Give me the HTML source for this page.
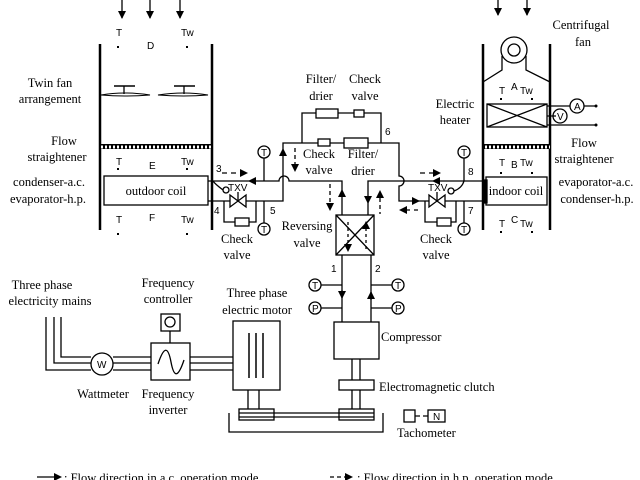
<!DOCTYPE html>
<html><head><style>
html,body{margin:0;padding:0;background:#fff;}
svg{display:block;}
.s{font-family:"Liberation Serif",serif;font-size:12.5px;}
.a{font-family:"Liberation Sans",sans-serif;font-size:10px;}
</style></head><body>
<svg width="640" height="480" viewBox="0 0 640 480" xmlns="http://www.w3.org/2000/svg">
<defs>
<marker id="ar" markerWidth="8" markerHeight="8" refX="7" refY="4" orient="auto" markerUnits="userSpaceOnUse"><path d="M0,0 L8,4 L0,8 z" fill="#000"/></marker>
<pattern id="hat" width="4" height="6" patternUnits="userSpaceOnUse"><rect width="4" height="6" fill="#000"/><rect x="1" y="1.5" width="2" height="3" fill="#fff"/></pattern>
</defs>
<g stroke="#000" fill="none" stroke-width="1.3">
<line x1="100" y1="44" x2="100" y2="230" stroke-width="2.5"/>
<line x1="212" y1="44" x2="212" y2="230" stroke-width="2.5"/>
<line x1="122" y1="0" x2="122" y2="18" marker-end="url(#ar)"/>
<line x1="150" y1="0" x2="150" y2="18" marker-end="url(#ar)"/>
<line x1="180" y1="0" x2="180" y2="18" marker-end="url(#ar)"/>
<line x1="114" y1="86" x2="135" y2="86" stroke-width="1.5"/><line x1="124" y1="86" x2="124" y2="94"/>
<path d="M101,95 Q124,91 150,95 Q124,97 101,95z" stroke-width="1"/>
<line x1="174" y1="86" x2="195" y2="86" stroke-width="1.5"/><line x1="184" y1="86" x2="184" y2="94"/>
<path d="M158,95 Q184,91 208,95 Q184,97 158,95z" stroke-width="1"/>
<rect x="100" y="144" width="112" height="5" fill="url(#hat)" stroke="none"/>
<rect x="104" y="176" width="104" height="29"/>
<line x1="483" y1="44" x2="483" y2="230" stroke-width="2.5"/>
<line x1="550" y1="44" x2="550" y2="230" stroke-width="2.5"/>
<line x1="498" y1="0" x2="498" y2="15" marker-end="url(#ar)"/>
<line x1="527" y1="0" x2="527" y2="15" marker-end="url(#ar)"/>
<circle cx="514" cy="50" r="13"/><circle cx="514" cy="50" r="6"/>
<path d="M502,56 V70 L483,82 M526,56 V70 L550,82"/>
<rect x="487" y="104" width="60" height="23"/><path d="M487,104 L547,127 M547,104 L487,127"/>
<path d="M547,106 H570 M584,106 H596 M547,125 H596 M556,116 H547"/>
<circle cx="577" cy="106" r="7"/><circle cx="560" cy="116" r="7"/>
<rect x="483" y="144" width="67" height="5" fill="url(#hat)" stroke="none"/>
<rect x="486" y="177" width="61" height="28"/>
<rect x="483" y="180" width="4" height="23" fill="#000"/>
<path d="M208,181 H279 A5,5 0 0 1 289,181 H342 V215"/>
<path d="M208,201 H230 M246,201 H283 V143 H399 V176 A5,5 0 0 1 399,186 V201 H429"/>
<path d="M445,201 H483"/>
<path d="M483,181 H368 V215"/>
<path d="M302,143 V113 H381 V143"/>
<rect x="316" y="109" width="22" height="9" fill="#fff"/><rect x="354" y="110" width="10" height="7" fill="#fff"/>
<rect x="318" y="139" width="12" height="7" fill="#fff"/><rect x="344" y="138" width="24" height="10" fill="#fff"/>
<path d="M230,195 L246,207 L246,195 L230,207 Z"/><line x1="238" y1="201" x2="238" y2="192"/>
<circle cx="226" cy="190" r="3"/><path d="M223,190 Q215,184 213,181"/>
<path d="M224,201 V222 H256 V201"/><rect x="235" y="218" width="14" height="8" fill="#fff"/>
<line x1="264" y1="158" x2="264" y2="181"/><circle cx="264" cy="152" r="6"/>
<line x1="264" y1="201" x2="264" y2="223"/><circle cx="264" cy="229" r="6"/>
<path d="M429,195 L445,207 L445,195 L429,207 Z"/><line x1="437" y1="201" x2="437" y2="192"/>
<circle cx="451" cy="191" r="3"/><path d="M454,191 Q462,188 464,181"/>
<path d="M425,201 V222 H456 V201"/><rect x="437" y="218" width="14" height="8" fill="#fff"/>
<line x1="464" y1="158" x2="464" y2="181"/><circle cx="464" cy="152" r="6"/>
<line x1="464" y1="201" x2="464" y2="223"/><circle cx="464" cy="229" r="6"/>
<rect x="336" y="215" width="38" height="40"/><path d="M336,215 L374,255 M374,215 L336,255"/>
<path d="M342,255 V322 M371,255 V322"/>
<line x1="342" y1="290" x2="342" y2="298" marker-end="url(#ar)"/>
<line x1="371" y1="300" x2="371" y2="292" marker-end="url(#ar)"/>
<line x1="321" y1="285" x2="342" y2="285"/><circle cx="315" cy="285" r="6"/>
<line x1="321" y1="308" x2="342" y2="308"/><circle cx="315" cy="308" r="6"/>
<line x1="371" y1="285" x2="392" y2="285"/><circle cx="398" cy="285" r="6"/>
<line x1="371" y1="308" x2="392" y2="308"/><circle cx="398" cy="308" r="6"/>
<rect x="334" y="322" width="45" height="37"/>
<path d="M352,359 V380 M360,359 V380 M352,390 V409 M360,390 V409"/>
<rect x="339" y="380" width="35" height="10"/>
<rect x="339" y="409" width="35" height="11"/><path d="M339,413 H374 M339,417 H374"/>
<rect x="239" y="409" width="35" height="11"/><path d="M239,413 H274 M239,417 H274"/>
<path d="M274,413 H339 M274,417 H339"/>
<path d="M229,413 V432 H383 V413"/>
<path d="M248,390 V409 M259,390 V409"/>
<rect x="233" y="321" width="47" height="69"/>
<path d="M249,333 V378 M256,333 V378 M263,333 V378" stroke-width="1.5"/>
<path d="M46,317 V370 H91 M54,317 V363 H91 M61,317 V357 H91"/>
<path d="M113,357 H151 M113,363 H151 M113,370 H151"/>
<circle cx="102" cy="364" r="11"/>
<rect x="151" y="343" width="39" height="37"/>
<path d="M158,364 C164,346 168,346 171,362 C174,378 178,378 184,360"/>
<rect x="161" y="314" width="19" height="17"/><circle cx="170" cy="322" r="5"/><line x1="170" y1="331" x2="170" y2="343"/>
<path d="M190,357 H233 M190,363 H233 M190,370 H233"/>
<rect x="404" y="410" width="11" height="12"/><path d="M415,416 H420 M423,416 H428"/><rect x="428" y="410" width="17" height="12"/>
<path d="M256,177 L248,181 L256,185z" fill="#000" stroke="none"/>
<path d="M222,173 H242" stroke-dasharray="5,4"/><path d="M240,169 L248,173 L240,177z" fill="#000" stroke="none"/>
<path d="M279,156 L283,148 L287,156z" fill="#000" stroke="none"/>
<path d="M295,148 V164" stroke-dasharray="4,3"/><path d="M291,164 L295,172 L299,164z" fill="#000" stroke="none"/>
<path d="M338,197 L342,189 L346,197z" fill="#000" stroke="none"/>
<path d="M330,184 V202" stroke-dasharray="4,3"/><path d="M326,203 L330,211 L334,203z" fill="#000" stroke="none"/>
<path d="M364,196 L368,204 L372,196z" fill="#000" stroke="none"/>
<path d="M380,198 V214" stroke-dasharray="4,3"/><path d="M376,198 L380,190 L384,198z" fill="#000" stroke="none"/>
<path d="M348,222 V246" stroke-dasharray="3,3"/><path d="M344,244 L348,252 L352,244z" fill="#000" stroke="none"/>
<path d="M366,228 V252" stroke-dasharray="3,3"/><path d="M362,229 L366,221 L370,229z" fill="#000" stroke="none"/>
<path d="M440,177 L432,181 L440,185z" fill="#000" stroke="none"/>
<path d="M420,173 H433" stroke-dasharray="5,4"/><path d="M433,169 L441,173 L433,177z" fill="#000" stroke="none"/>
<path d="M412,197 L420,201 L412,205z" fill="#000" stroke="none"/>
<path d="M405,210 H418" stroke-dasharray="5,4"/><path d="M407,206 L399,210 L407,214z" fill="#000" stroke="none"/>
<line x1="37" y1="477" x2="55" y2="477"/><path d="M54,473 L62,477 L54,481z" fill="#000" stroke="none"/>
<path d="M330,477 H345" stroke-dasharray="4,3"/><path d="M345,473 L353,477 L345,481z" fill="#000" stroke="none"/>
</g>
<g fill="#000">
<g font-family="Liberation Sans" font-size="10">
<text x="116" y="36" class="a">T</text><text x="147" y="49" class="a">D</text><text x="181" y="36" class="a">Tw</text>
<text x="116" y="165" class="a">T</text><text x="149" y="169" class="a">E</text><text x="181" y="165" class="a">Tw</text>
<text x="116" y="223" class="a">T</text><text x="149" y="221" class="a">F</text><text x="181" y="223" class="a">Tw</text>
<text x="499" y="94" class="a">T</text><text x="511" y="90" class="a">A</text><text x="520" y="94" class="a">Tw</text>
<text x="499" y="166" class="a">T</text><text x="511" y="168" class="a">B</text><text x="520" y="166" class="a">Tw</text>
<text x="499" y="227" class="a">T</text><text x="511" y="223" class="a">C</text><text x="520" y="227" class="a">Tw</text>
<text x="261" y="156" class="a">T</text><text x="261" y="233" class="a">T</text>
<text x="461" y="156" class="a">T</text><text x="461" y="233" class="a">T</text>
<text x="312" y="289" class="a">T</text><text x="312" y="312" class="a">P</text>
<text x="395" y="289" class="a">T</text><text x="395" y="312" class="a">P</text>
<text x="574" y="110" class="a" font-size="9">A</text><text x="557" y="120" class="a" font-size="9">V</text>
<text x="97" y="368" class="a">W</text><text x="433" y="420" class="a" font-size="8">N</text>
<text x="228" y="191" class="a">TXV</text><text x="428" y="191" class="a">TXV</text>
<text x="216" y="172" class="a">3</text><text x="214" y="214" class="a">4</text><text x="270" y="214" class="a">5</text>
<text x="385" y="135" class="a">6</text><text x="468" y="214" class="a">7</text><text x="468" y="175" class="a">8</text>
<text x="331" y="272" class="a">1</text><text x="375" y="272" class="a">2</text>
</g>
<rect x="117" y="46" width="2" height="2"/><rect x="186" y="46" width="2" height="2"/>
<rect x="117" y="168" width="2" height="2"/><rect x="186" y="168" width="2" height="2"/>
<rect x="117" y="233" width="2" height="2"/><rect x="186" y="233" width="2" height="2"/>
<rect x="500" y="98" width="2" height="2"/><rect x="531" y="98" width="2" height="2"/>
<rect x="500" y="172" width="2" height="2"/><rect x="531" y="172" width="2" height="2"/>
<rect x="500" y="231" width="2" height="2"/><rect x="531" y="231" width="2" height="2"/>
<circle cx="596" cy="106" r="1.5"/><circle cx="596" cy="125" r="1.5"/>
<g>
<text x="50" y="87" text-anchor="middle" class="s">Twin fan</text>
<text x="50" y="103" text-anchor="middle" class="s">arrangement</text>
<text x="64" y="145" text-anchor="middle" class="s">Flow</text>
<text x="57" y="161" text-anchor="middle" class="s">straightener</text>
<text x="49" y="186" text-anchor="middle" class="s">condenser-a.c.</text>
<text x="48" y="203" text-anchor="middle" class="s">evaporator-h.p.</text>
<text x="156" y="195" text-anchor="middle" class="s">outdoor coil</text>
<text x="516" y="195" text-anchor="middle" class="s" font-size="11.5">indoor coil</text>
<text x="581" y="29" text-anchor="middle" class="s">Centrifugal</text>
<text x="583" y="46" text-anchor="middle" class="s">fan</text>
<text x="455" y="108" text-anchor="middle" class="s">Electric</text>
<text x="455" y="124" text-anchor="middle" class="s">heater</text>
<text x="584" y="147" text-anchor="middle" class="s">Flow</text>
<text x="584" y="163" text-anchor="middle" class="s">straightener</text>
<text x="596" y="186" text-anchor="middle" class="s">evaporator-a.c.</text>
<text x="597" y="203" text-anchor="middle" class="s">condenser-h.p.</text>
<text x="321" y="83" text-anchor="middle" class="s">Filter/</text>
<text x="321" y="100" text-anchor="middle" class="s">drier</text>
<text x="365" y="83" text-anchor="middle" class="s">Check</text>
<text x="365" y="100" text-anchor="middle" class="s">valve</text>
<text x="319" y="158" text-anchor="middle" class="s">Check</text>
<text x="319" y="174" text-anchor="middle" class="s">valve</text>
<text x="363" y="158" text-anchor="middle" class="s">Filter/</text>
<text x="363" y="175" text-anchor="middle" class="s">drier</text>
<text x="237" y="243" text-anchor="middle" class="s">Check</text>
<text x="237" y="259" text-anchor="middle" class="s">valve</text>
<text x="436" y="243" text-anchor="middle" class="s">Check</text>
<text x="436" y="259" text-anchor="middle" class="s">valve</text>
<text x="307" y="230" text-anchor="middle" class="s">Reversing</text>
<text x="307" y="247" text-anchor="middle" class="s">valve</text>
<text x="42" y="289" text-anchor="middle" class="s">Three phase</text>
<text x="50" y="305" text-anchor="middle" class="s">electricity mains</text>
<text x="168" y="287" text-anchor="middle" class="s">Frequency</text>
<text x="168" y="303" text-anchor="middle" class="s">controller</text>
<text x="257" y="297" text-anchor="middle" class="s">Three phase</text>
<text x="257" y="314" text-anchor="middle" class="s">electric motor</text>
<text x="381" y="341" class="s">Compressor</text>
<text x="379" y="391" class="s">Electromagnetic clutch</text>
<text x="397" y="437" class="s">Tachometer</text>
<text x="103" y="398" text-anchor="middle" class="s">Wattmeter</text>
<text x="168" y="398" text-anchor="middle" class="s">Frequency</text>
<text x="168" y="414" text-anchor="middle" class="s">inverter</text>
<text x="64" y="482" class="s">: Flow direction in a.c. operation mode</text>
<text x="357" y="482" class="s">: Flow direction in h.p. operation mode</text>
</g>
</g>
</svg>
</body></html>
